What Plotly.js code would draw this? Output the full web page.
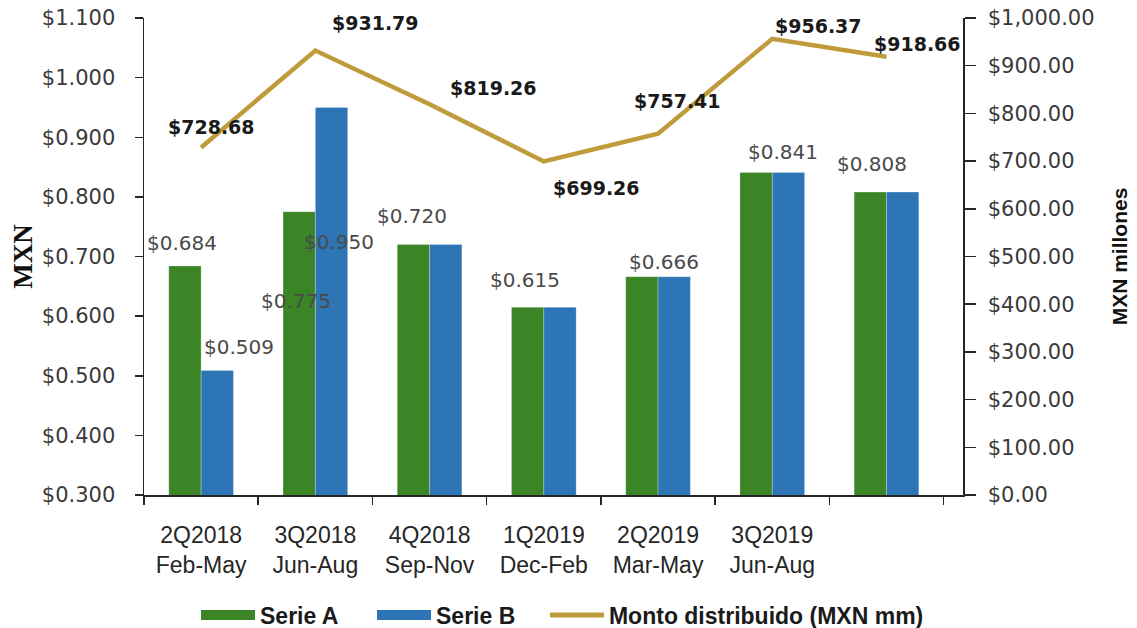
<!DOCTYPE html>
<html>
<head>
<meta charset="utf-8">
<script src="https://cdn.plot.ly/plotly-3.0.1.min.js"></script>
<style>html,body{margin:0;padding:0;background:#fff;}#chart{width:1137px;height:628px;}</style>
</head>
<body>
<div id="chart"></div>
<script>
// ---- data ----
const categories = ["2Q2018<br>Feb-May", "3Q2018<br>Jun-Aug", "4Q2018<br>Sep-Nov", "1Q2019<br>Dec-Feb", "2Q2019<br>Mar-May", "3Q2019<br>Jun-Aug", " "];
const serieA = [0.684, 0.775, 0.720, 0.615, 0.666, 0.841, 0.808];
const serieB = [0.509, 0.950, 0.720, 0.615, 0.666, 0.841, 0.808];
const monto = [728.68, 931.79, 819.26, 699.26, 757.41, 956.37, 918.66];
const leftTicks = [0.3, 0.4, 0.5, 0.6, 0.7, 0.8, 0.9, 1.0, 1.1];
const leftTickText = ["$0.300", "$0.400", "$0.500", "$0.600", "$0.700", "$0.800", "$0.900", "$1.000", "$1.100"];
const rightTicks = [0, 100, 200, 300, 400, 500, 600, 700, 800, 900, 1000];
const rightTickText = ["$0.00", "$100.00", "$200.00", "$300.00", "$400.00", "$500.00", "$600.00", "$700.00", "$800.00", "$900.00", "$1,000.00"];

// ---- label placement (which series each bar label belongs to, and pixel offsets) ----
const barLabelSeries = ["A", "B", "A", "B", "B", "B", "B", "B", "B"];
const barLabelIndex  = [0, 0, 1, 1, 2, 3, 4, 5, 6];
const barLabelDx     = [-19, 38, -19, 24, -18, -19, 6, 11, -15];
const barLabelDy     = [23, 23, -89, -135, 29, 27, 15, 20, 28];
const lineLabelDx    = [10, 60, 64, 53, 19, 46, 31];
const lineLabelDy    = [20, 28, 16, -27, 33, 13, 13];

const GREEN = "#3b8526", BLUE = "#2e75b6", GOLD = "#c09b3b";

const traces = [
  {type: "bar", name: "Serie A", x: categories, y: serieA, marker: {color: GREEN, line: {color: "rgba(255,255,255,0.5)", width: 0.5}}, showlegend: false, hoverinfo: "y"},
  {type: "bar", name: "Serie B", x: categories, y: serieB, marker: {color: BLUE, line: {color: "rgba(255,255,255,0.5)", width: 0.5}}, showlegend: false, hoverinfo: "y"},
  {type: "scatter", mode: "lines", name: "Monto distribuido (MXN mm)", x: categories, y: monto, yaxis: "y2", line: {color: GOLD, width: 4.5}, showlegend: false},
  // legend entries
  {type: "scatter", mode: "lines", name: "Serie A", x: [null], y: [null], line: {color: GREEN, width: 16}, legend: "legend"},
  {type: "scatter", mode: "lines", name: "Serie B", x: [null], y: [null], line: {color: BLUE, width: 16}, legend: "legend"},
  {type: "scatter", mode: "lines", name: "Monto distribuido (MXN mm)", x: [null], y: [null], line: {color: GOLD, width: 5}, legend: "legend2"}
];

const annotations = [];
for (let k = 0; k < barLabelIndex.length; k++) {
  const i = barLabelIndex[k];
  const v = barLabelSeries[k] === "A" ? serieA[i] : serieB[i];
  annotations.push({
    x: categories[i], y: v, xref: "x", yref: "y",
    text: "$" + v.toFixed(3), showarrow: false,
    xshift: barLabelDx[k], yshift: barLabelDy[k],
    font: {family: "DejaVu Sans", size: 20, color: "#4a4a4a"}
  });
}
for (let i = 0; i < monto.length; i++) {
  annotations.push({
    x: categories[i], y: monto[i], xref: "x", yref: "y2",
    text: "$" + monto[i].toFixed(2), showarrow: false,
    xshift: lineLabelDx[i], yshift: lineLabelDy[i],
    font: {family: "DejaVu Sans", size: 19, color: "#1a1a1a", weight: "bold"}
  });
}

const legendFont = {family: "Liberation Sans", size: 23, color: "#1a1a1a", weight: "bold"};

const layout = {
  width: 1137, height: 628,
  margin: {l: 144, r: 174, t: 18, b: 133, autoexpand: false},
  paper_bgcolor: "#ffffff", plot_bgcolor: "#ffffff",
  barmode: "group", bargap: 0.434, bargroupgap: 0,
  showlegend: true,
  legend: {orientation: "h", xref: "container", yref: "container", x: 0.1724, y: 0.0207, xanchor: "left", yanchor: "middle",
           itemwidth: 54, entrywidth: 107, entrywidthmode: "pixels", font: legendFont},
  legend2: {orientation: "h", xref: "container", yref: "container", x: 0.4793, y: 0.0207, xanchor: "left", yanchor: "middle",
           itemwidth: 54, font: legendFont},
  xaxis: {type: "category", categoryorder: "array", categoryarray: categories,
          showline: true, linecolor: "#262626", linewidth: 1.5,
          ticks: "outside", tickson: "boundaries", ticklen: 8, tickcolor: "#262626", tickwidth: 1.5,
          ticklabelstandoff: 19,
          tickfont: {family: "Liberation Sans", size: 23, color: "#262626"},
          showgrid: false, zeroline: false, automargin: false},
  yaxis: {range: [0.3, 1.1], tickmode: "array", tickvals: leftTicks, ticktext: leftTickText,
          showline: true, linecolor: "#262626", linewidth: 1.5,
          ticks: "outside", ticklen: 8, tickcolor: "#262626", tickwidth: 1.5,
          ticklabelstandoff: 15,
          tickfont: {family: "DejaVu Sans", size: 21, color: "#3a3a3a"},
          showgrid: false, zeroline: false,
          title: {text: "MXN", standoff: 1, font: {family: "Liberation Serif", size: 27, color: "#111", weight: "bold"}},
          automargin: false},
  yaxis2: {overlaying: "y", side: "right", range: [0, 1000], tickmode: "array", tickvals: rightTicks, ticktext: rightTickText,
           showline: true, linecolor: "#262626", linewidth: 1.5,
           ticks: "outside", ticklen: 11, tickcolor: "#262626", tickwidth: 1.5,
           ticklabelstandoff: 8,
           tickfont: {family: "DejaVu Sans", size: 21, color: "#3a3a3a"},
           showgrid: false, zeroline: false,
           title: {text: "MXN millones", standoff: 18, font: {family: "Liberation Sans", size: 21, color: "#111", weight: "bold"}},
           automargin: false},
  annotations: annotations
};

Plotly.newPlot("chart", traces, layout, {staticPlot: true, displayModeBar: false});
</script>
</body>
</html>
